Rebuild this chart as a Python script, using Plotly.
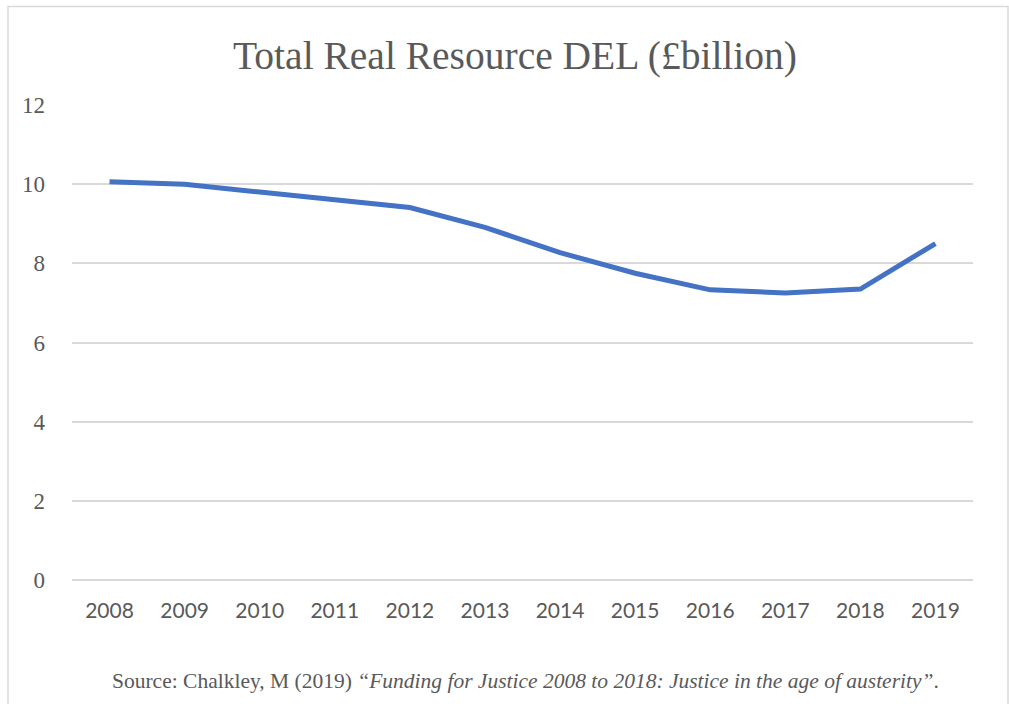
import plotly.graph_objects as go

years = ["2008", "2009", "2010", "2011", "2012", "2013", "2014", "2015", "2016", "2017", "2018", "2019"]
del_values = [10.06, 10.0, 9.8, 9.6, 9.41, 8.91, 8.27, 7.75, 7.33, 7.25, 7.35, 8.5]
y_ticks = [0, 2, 4, 6, 8, 10, 12]

W, H = 1009, 704
L, R, T, B = 72, 36, 105, 124
pw, ph = W - L - R, H - T - B

fig = go.Figure()
fig.add_trace(go.Scatter(
    x=years, y=del_values, mode="lines",
    line=dict(color="#4472C4", width=5),
    hoverinfo="x+y", showlegend=False,
))

def px_to_paper_x(px):
    return (px - L) / pw

def px_to_paper_y(py):
    return 1 - (py - T) / ph

fig.update_layout(
    width=W, height=H,
    margin=dict(l=L, r=R, t=T, b=B, autoexpand=False),
    paper_bgcolor="white", plot_bgcolor="white",
    title=dict(
        text="Total Real Resource DEL (£billion)",
        font=dict(family="Liberation Serif, DejaVu Serif, serif", size=39.5, color="#595959"),
        x=515 / W, xanchor="center", y=1 - 55 / H, yanchor="middle",
    ),
    xaxis=dict(
        type="category", range=[-0.5, len(years) - 0.5],
        showgrid=False, zeroline=False, showline=False,
        ticks="", tickfont=dict(family="Lato, Open Sans, sans-serif", size=21, color="#595959"),
        ticklabelstandoff=16, fixedrange=True,
    ),
    yaxis=dict(
        range=[0, 12], tickvals=y_ticks, ticktext=[str(v) for v in y_ticks],
        showgrid=True, gridcolor="#d9d9d9", gridwidth=1.5,
        zeroline=True, zerolinecolor="#d9d9d9", zerolinewidth=1.5,
        showline=False, ticks="",
        tickfont=dict(family="Liberation Serif, DejaVu Serif, serif", size=23, color="#595959"),
        ticklabelstandoff=26, fixedrange=True,
    ),
    shapes=[dict(
        type="rect", xref="paper", yref="paper",
        x0=px_to_paper_x(8), x1=px_to_paper_x(1008),
        y0=px_to_paper_y(720), y1=px_to_paper_y(6.5),
        line=dict(color="#d9d9d9", width=1.5), fillcolor="rgba(0,0,0,0)", layer="below",
    )],
    annotations=[dict(
        text="Source: Chalkley, M (2019) <i>\u201cFunding for Justice 2008 to 2018: Justice in the age of austerity\u201d</i>.",
        xref="paper", yref="paper",
        x=px_to_paper_x(525), y=px_to_paper_y(681),
        xanchor="center", yanchor="middle", showarrow=False,
        font=dict(family="Liberation Serif, DejaVu Serif, serif", size=21.5, color="#595959"),
    )],
)

fig.write_html("out.html")
